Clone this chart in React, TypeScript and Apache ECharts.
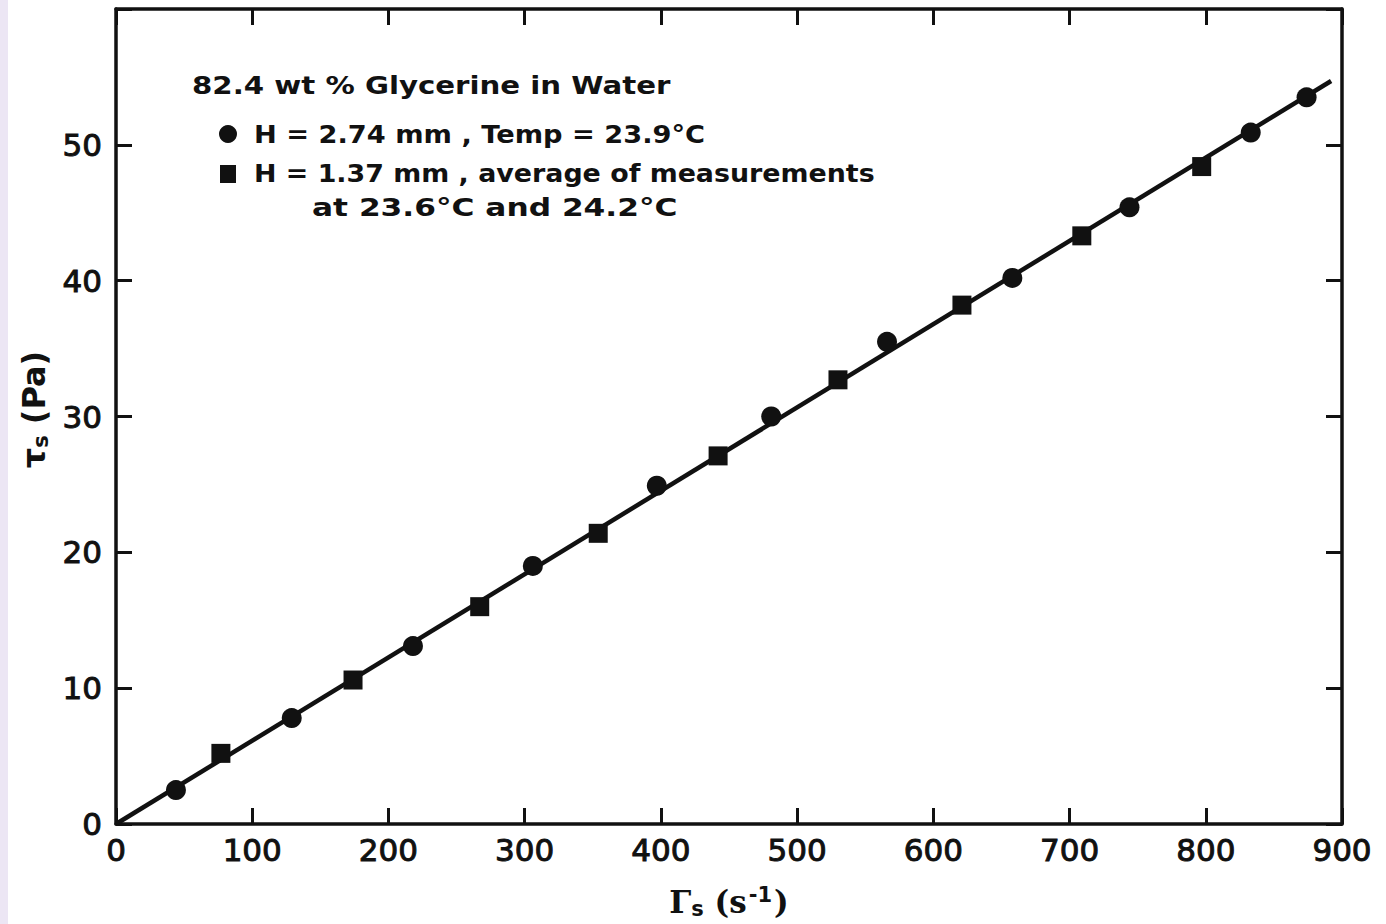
import React, { useEffect, useRef } from "react";
import * as echarts from "echarts";

const xTicks = [0, 100, 200, 300, 400, 500, 600, 700, 800, 900];
const yTicks = [0, 10, 20, 30, 40, 50];

// H = 2.74 mm (circles)
const circleX = [44, 129, 218, 306, 397, 481, 566, 658, 744, 833, 874];
const circleY = [2.5, 7.8, 13.1, 19.0, 24.9, 30.0, 35.5, 40.2, 45.4, 50.9, 53.5];

// H = 1.37 mm (squares)
const squareX = [77, 174, 267, 354, 442, 530, 621, 709, 797];
const squareY = [5.2, 10.6, 16.0, 21.4, 27.1, 32.7, 38.2, 43.3, 48.4];

// fitted line
const fitX = [0, 892];
const fitY = [0, 54.7];

const titleText = "82.4 wt % Glycerine in Water";
const legend1 = "H = 2.74 mm , Temp = 23.9°C";
const legend2a = "H = 1.37 mm , average of measurements";
const legend2b = "at 23.6°C and 24.2°C";

export default function App() {
  const ref = useRef<HTMLDivElement>(null);
  useEffect(() => {
    if (!ref.current) return;
    const chart = echarts.init(ref.current, null, { renderer: "svg" });
    const black = "#111";
    const axisLine = { show: true, onZero: false, lineStyle: { color: black, width: 3.5 } };
    const tick = { show: true, inside: true, length: 16, lineStyle: { color: black, width: 3 } };
    const labelFont = {
      color: black,
      fontSize: 31,
      fontFamily: "DejaVu Sans",
      textBorderColor: black,
      textBorderWidth: 1,
    };
    const legendFont = `bold 25px "DejaVu Sans"`;
    const legendText = (text: string, x: number, y: number, sx: number) => ({
      type: "text",
      x,
      y,
      scaleX: sx,
      style: { text, font: legendFont, fill: black, verticalAlign: "middle" },
    });
    chart.setOption({
      animation: false,
      backgroundColor: "#ffffff",
      grid: { left: 116, top: 9, width: 1226, height: 817, containLabel: false },
      xAxis: [
        {
          type: "value",
          position: "bottom",
          min: xTicks[0],
          max: xTicks[xTicks.length - 1],
          interval: 100,
          axisLine,
          axisTick: tick,
          splitLine: { show: false },
          axisLabel: { ...labelFont, margin: 10 },
          name: "{a|Γ}{s|s}{a| (s}{p|-1}{a|)}",
          nameLocation: "middle",
          nameGap: 60,
          nameTextStyle: {
            rich: {
              a: { fontSize: 31, fontFamily: "DejaVu Serif", fontWeight: "bold", color: black },
              s: { fontSize: 21, fontFamily: "DejaVu Sans", fontWeight: "bold", color: black, verticalAlign: "bottom", padding: [14, 0, 0, 0] },
              p: { fontSize: 21, fontFamily: "DejaVu Sans", fontWeight: "bold", color: black, verticalAlign: "top", padding: [0, 2, 14, 2] },
            },
          },
        },
        {
          type: "value",
          position: "top",
          min: xTicks[0],
          max: xTicks[xTicks.length - 1],
          interval: 100,
          axisLine,
          axisTick: tick,
          splitLine: { show: false },
          axisLabel: { show: false },
        },
      ],
      yAxis: [
        {
          type: "value",
          position: "left",
          min: 0,
          max: 60,
          interval: 10,
          axisLine,
          axisTick: tick,
          splitLine: { show: false },
          axisLabel: {
            ...labelFont,
            margin: 14,
            formatter: (v: number) => (yTicks.includes(v) ? String(v) : ""),
          },
          name: "{a|τ}{s|s}{a| (Pa)}",
          nameLocation: "middle",
          nameGap: 60,
          nameTextStyle: {
            padding: [0, 0, 0, 14],
            rich: {
              a: { fontSize: 32, fontFamily: "DejaVu Sans", fontWeight: "bold", color: black },
              s: { fontSize: 21, fontFamily: "DejaVu Sans", fontWeight: "bold", color: black, verticalAlign: "bottom", padding: [14, 0, 0, 0] },
            },
          },
        },
        {
          type: "value",
          position: "right",
          min: 0,
          max: 60,
          interval: 10,
          axisLine,
          axisTick: tick,
          splitLine: { show: false },
          axisLabel: { show: false },
        },
      ],
      series: [
        {
          type: "line",
          data: fitX.map((x, i) => [x, fitY[i]]),
          showSymbol: false,
          lineStyle: { color: black, width: 4.5 },
          z: 2,
        },
        {
          type: "scatter",
          data: circleX.map((x, i) => [x, circleY[i]]),
          symbol: "circle",
          symbolSize: 20,
          itemStyle: { color: black, opacity: 1 },
          z: 3,
        },
        {
          type: "scatter",
          data: squareX.map((x, i) => [x, squareY[i]]),
          symbol: "rect",
          symbolSize: 19,
          itemStyle: { color: black, opacity: 1 },
          z: 3,
        },
      ],
      graphic: [
        { type: "rect", left: 0, top: 0, shape: { width: 8, height: 924 }, style: { fill: "#ece6f4" } },
        legendText(titleText, 192, 85, 1.17),
        { type: "circle", shape: { cx: 228, cy: 134, r: 9 }, style: { fill: black } },
        legendText(legend1, 254, 134, 1.09),
        { type: "rect", shape: { x: 220, y: 165, width: 16, height: 18 }, style: { fill: black } },
        legendText(legend2a, 254, 173, 1.075),
        legendText(legend2b, 312, 208, 1.25),
      ],
    });
    return () => chart.dispose();
  }, []);
  return <div ref={ref} style={{ position: "absolute", left: 0, top: 0, width: 1386, height: 924 }} />;
}
